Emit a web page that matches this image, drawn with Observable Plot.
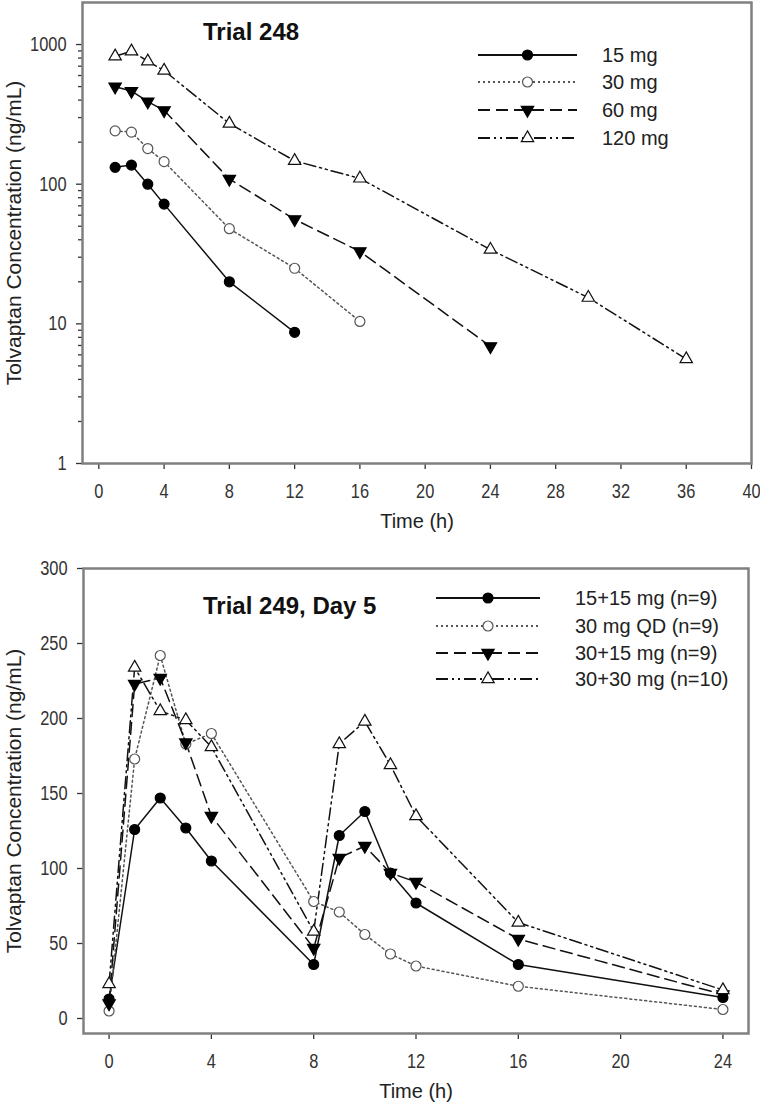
<!DOCTYPE html>
<html>
<head>
<meta charset="utf-8">
<script src="https://cdn.jsdelivr.net/npm/d3@7"></script>
<script src="https://cdn.jsdelivr.net/npm/@observablehq/plot@0.6"></script>
<style>
  body { margin: 0; background: #fff; }
  #wrap { position: relative; width: 760px; height: 1106px; font-family: "Liberation Sans", Arial, sans-serif; }
  #wrap > svg { display: block; }
  #overlay { position: absolute; left: 0; top: 0; pointer-events: none; }
</style>
</head>
<body>
<div id="wrap"></div>
<script>
// ---------------- Data: Trial 248 (single dose, log scale) ----------------
const topTitle = "Trial 248";
const topSeries = ["15 mg", "30 mg", "60 mg", "120 mg"];
const topTime15 = [1, 2, 3, 4, 8, 12];
const topConc15 = [132, 137, 100, 72, 20, 8.7];
const topTime30 = [1, 2, 3, 4, 8, 12, 16];
const topConc30 = [241, 236, 180, 145, 48, 25, 10.4];
const topTime60 = [1, 2, 3, 4, 8, 12, 16, 24];
const topConc60 = [499, 464, 390, 338, 109, 56, 33, 6.9];
const topTime120 = [1, 2, 3, 4, 8, 12, 16, 24, 30, 36];
const topConc120 = [824, 895, 759, 651, 272, 147, 110, 34, 15.4, 5.6];
const topXTicks = [0, 4, 8, 12, 16, 20, 24, 28, 32, 36, 40];
const topYTicks = [1, 10, 100, 1000];
const topYMinorTicks = [2, 3, 4, 5, 6, 7, 8, 9, 20, 30, 40, 50, 60, 70, 80, 90, 200, 300, 400, 500, 600, 700, 800, 900];

// ---------------- Data: Trial 249, Day 5 (linear scale) ----------------
const botTitle = "Trial 249, Day 5";
const botSeries = ["15+15 mg (n=9)", "30 mg QD (n=9)", "30+15 mg (n=9)", "30+30 mg (n=10)"];
const botTime = [0, 1, 2, 3, 4, 8, 9, 10, 11, 12, 16, 24];
const botConc1515 = [13, 126, 147, 127, 105, 36, 122, 138, 97, 77, 36, 14];
const botConcQD = [5, 173, 242, 183, 190, 78, 71, 56, 43, 35, 21.5, 6];
const botConc3015 = [10, 223, 227, 184, 135, 47, 107, 115, 97, 91, 53, 16];
const botConc3030 = [23, 234, 205, 199, 181, 58, 183, 198, 169, 135, 64, 19];
const botXTicks = [0, 4, 8, 12, 16, 20, 24];
const botYTicks = [0, 50, 100, 150, 200, 250, 300];

const xTitle = "Time (h)";
const yTitle = "Tolvaptan Concentration (ng/mL)";

// ---------------- Styles ----------------
const downTriangle = {
  draw(context, size) {
    const y = Math.sqrt(size / (Math.sqrt(3) * 3));
    context.moveTo(0, 2 * y);
    context.lineTo(-Math.sqrt(3) * y, -y);
    context.lineTo(Math.sqrt(3) * y, -y);
    context.closePath();
  }
};
const styles = [
  {dash: null, symbol: d3.symbolCircle, fill: "#000", stroke: "#000", line: "#111", r: 5},
  {dash: "2,3", symbol: d3.symbolCircle, fill: "#fff", stroke: "#555", line: "#555", r: 5},
  {dash: "12,6", symbol: downTriangle, fill: "#000", stroke: "#000", line: "#111", r: 4.6},
  {dash: "12,4,2,4,2,4", symbol: d3.symbolTriangle, fill: "#fff", stroke: "#111", line: "#111", r: 4.6}
];

function rows(name, ts, cs) { return ts.map((t, i) => ({t, c: cs[i], s: name})); }

const topData = [
  rows(topSeries[0], topTime15, topConc15),
  rows(topSeries[1], topTime30, topConc30),
  rows(topSeries[2], topTime60, topConc60),
  rows(topSeries[3], topTime120, topConc120)
];
const botData = [
  rows(botSeries[0], botTime, botConc1515),
  rows(botSeries[1], botTime, botConcQD),
  rows(botSeries[2], botTime, botConc3015),
  rows(botSeries[3], botTime, botConc3030)
];

function seriesMarks(data) {
  const lines = data.map((d, i) => Plot.line(d, {
    x: "t", y: "c", stroke: styles[i].line, strokeWidth: 1.5,
    strokeDasharray: styles[i].dash
  }));
  const dots = data.map((d, i) => Plot.dot(d, {
    x: "t", y: "c", symbol: styles[i].symbol, r: styles[i].r,
    fill: styles[i].fill, stroke: styles[i].stroke, strokeWidth: 1.2
  }));
  return [...lines, ...dots];
}

const fontFam = "'Liberation Sans', Arial, sans-serif";
const axisColor = "#333";

function titleMarks(yOffset, xOffset) {
  return [
    Plot.text([yTitle], {text: d => d, frameAnchor: "left", rotate: -90, dx: -xOffset,
      textAnchor: "middle", lineAnchor: "middle",
      fontSize: 21, fill: "#222", ariaLabel: "y-axis title"}),
    Plot.text([xTitle], {text: d => d, frameAnchor: "bottom", dy: yOffset,
      textAnchor: "middle", lineAnchor: "middle",
      fontSize: 20, fill: "#222", ariaLabel: "x-axis title"})
  ];
}

const topPlot = Plot.plot({
  width: 760, height: 540,
  marginLeft: 82, marginRight: 9, marginTop: 2, marginBottom: 77,
  style: {fontFamily: fontFam, fontSize: "20px", color: axisColor, background: "#fff", overflow: "visible"},
  x: {domain: [-1, 40]},
  y: {type: "log", domain: [1, 2000]},
  marks: [
    Plot.axisY({ticks: topYMinorTicks, tickSize: 4, tickFormat: () => "", label: null, strokeWidth: 1.3}),
    Plot.axisY({ticks: topYTicks, tickSize: 6, tickPadding: 10, tickFormat: d => String(d), label: null, fontSize: 20, strokeWidth: 1.3}),
    Plot.axisX({ticks: topXTicks, tickSize: 6, tickPadding: 14, tickFormat: d => String(d), label: null, fontSize: 20, strokeWidth: 1.3}),
    Plot.frame({stroke: "#808080", strokeWidth: 2.5}),
    ...seriesMarks(topData),
    ...titleMarks(58, 68)
  ]
});

const botPlot = Plot.plot({
  width: 760, height: 566,
  marginLeft: 83, marginRight: 12, marginTop: 28, marginBottom: 73,
  style: {fontFamily: fontFam, fontSize: "20px", color: axisColor, background: "#fff", overflow: "visible"},
  x: {domain: [-1, 25]},
  y: {domain: [-10, 300]},
  marks: [
    Plot.axisY({ticks: botYTicks, tickSize: 6, tickPadding: 10, tickFormat: d => String(d), label: null, fontSize: 20, strokeWidth: 1.3}),
    Plot.axisX({ticks: botXTicks, tickSize: 6, tickPadding: 14, tickFormat: d => String(d), label: null, fontSize: 20, strokeWidth: 1.3}),
    Plot.frame({stroke: "#808080", strokeWidth: 2.5}),
    ...seriesMarks(botData),
    ...titleMarks(58, 69)
  ]
});

const wrap = document.getElementById("wrap");
wrap.append(topPlot, botPlot);

// condense tick labels and x title horizontally (narrow typeface look), keeping anchors
function condense(svg, label, k) {
  svg.querySelectorAll(`g[aria-label="${label}"] text`).forEach(t => {
    const w = t.getComputedTextLength();
    if (w > 0) {
      t.setAttribute("textLength", (w * k).toFixed(2));
      t.setAttribute("lengthAdjust", "spacingAndGlyphs");
    }
  });
}
for (const svg of [topPlot, botPlot]) {
  condense(svg, "x-axis tick label", 0.82);
  condense(svg, "y-axis tick label", 0.82);
  condense(svg, "x-axis title", 0.85);
}

// ---------------- Titles and legends (inside the frames) ----------------
const overlay = d3.select(wrap).append("svg")
  .attr("id", "overlay").attr("width", 760).attr("height", 1106)
  .style("font-family", fontFam);

function legend(titleText, titleX, titleY, series, x1, x2, textX, rowY) {
  overlay.append("text").attr("x", titleX).attr("y", titleY)
    .attr("dominant-baseline", "central").attr("font-size", 24).attr("font-weight", "bold")
    .attr("fill", "#111").text(titleText);
  series.forEach((name, i) => {
    const st = styles[i];
    const y = rowY[i];
    overlay.append("line").attr("x1", x1).attr("x2", x2).attr("y1", y).attr("y2", y)
      .attr("stroke", st.line).attr("stroke-width", 1.8)
      .attr("stroke-dasharray", st.dash);
    overlay.append("path")
      .attr("transform", `translate(${(x1 + x2) / 2},${y})`)
      .attr("d", d3.symbol(st.symbol, Math.PI * st.r * st.r)())
      .attr("fill", st.fill).attr("stroke", st.stroke).attr("stroke-width", 1.2);
    overlay.append("text").attr("x", textX).attr("y", y)
      .attr("dominant-baseline", "central").attr("font-size", 20).attr("fill", "#222")
      .text(name);
  });
}
legend(topTitle, 203, 31, topSeries, 478, 577, 602, [55, 82, 110, 138]);
legend(botTitle, 203, 605, botSeries, 436, 540, 575, [598, 626, 653, 679]);
</script>
</body>
</html>
